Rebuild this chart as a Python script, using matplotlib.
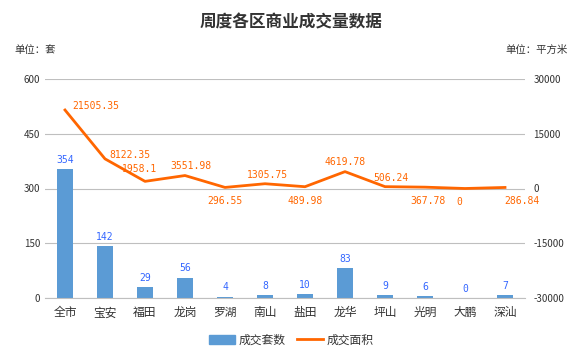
import matplotlib
matplotlib.use("Agg")
import matplotlib.pyplot as plt
from matplotlib.lines import Line2D
from matplotlib.patches import Patch

plt.rcParams['font.family'] = ['Noto Sans CJK SC', 'DejaVu Sans']
plt.rcParams['axes.unicode_minus'] = False

# === data ===
districts = ["全市", "宝安", "福田", "龙岗", "罗湖", "南山", "盐田", "龙华", "坪山", "光明", "大鹏", "深汕"]
units = [354, 142, 29, 56, 4, 8, 10, 83, 9, 6, 0, 7]
areas = [21505.35, 8122.35, 1958.1, 3551.98, 296.55, 1305.75, 489.98, 4619.78, 506.24, 367.78, 0, 286.84]
area_text = ["21505.35", "8122.35", "1958.1", "3551.98", "296.55", "1305.75",
             "489.98", "4619.78", "506.24", "367.78", "0", "286.84"]

# label offsets for the line labels (points)
label_offsets = [(22, 3), (18, 3), (-4, 9), (4, 7), (0, -10), (2, 6),
                 (0, -10), (0, 7), (4, 6), (2, -10), (-4, -10), (12, -10)]

BAR_COLOR = "#5B9BD5"
LINE_COLOR = "#FF6600"
GRID_COLOR = "#BFBFBF"

fig = plt.figure(figsize=(5.82, 3.56), dpi=100)
ax = fig.add_axes([45 / 582, 1 - 298 / 356, 480 / 582, 219 / 356])
ax2 = ax.twinx()

x = list(range(len(districts)))
ax.bar(x, units, width=0.4, color=BAR_COLOR, zorder=2)
for xi, v in zip(x, units):
    ax.annotate(str(v), (xi, v), xytext=(0, 3), textcoords="offset points",
                ha="center", va="bottom", fontsize=7, color="#3366FF",
                family="DejaVu Sans Mono")

ax.set_xlim(-0.5, len(districts) - 0.5)
ax.set_ylim(0, 600)
ax.set_yticks([0, 150, 300, 450, 600])
ax.grid(axis="y", color=GRID_COLOR, linewidth=0.8, zorder=0)
ax.set_axisbelow(True)
ax.set_xticks(x)
ax.set_xticklabels(districts, fontsize=8.5, color="#333333")
for s in ["top", "right", "left"]:
    ax.spines[s].set_visible(False)
ax.spines["bottom"].set_color(GRID_COLOR)
ax.tick_params(axis="both", length=0, labelsize=7, colors="#333333")
ax.tick_params(axis="x", pad=6, labelsize=8.5)

ax2.plot(x, areas, color=LINE_COLOR, linewidth=2, zorder=3)
for xi, v, t, off in zip(x, areas, area_text, label_offsets):
    ax2.annotate(t, (xi, v), xytext=off, textcoords="offset points",
                 ha="center", va="center", fontsize=7, color=LINE_COLOR,
                 family="DejaVu Sans Mono")
ax2.set_ylim(-30000, 30000)
ax2.set_yticks([-30000, -15000, 0, 15000, 30000])
for s in ["top", "right", "left", "bottom"]:
    ax2.spines[s].set_visible(False)
ax2.tick_params(axis="y", length=0, labelsize=7, colors="#333333", pad=6)

fig.text(0.5, 1 - 22 / 356, "周度各区商业成交量数据", ha="center", va="center",
         fontsize=12, fontweight="bold", color="#333333")
fig.text(14 / 582, 1 - 50 / 356, "单位：套", ha="left", va="center", fontsize=7.5, color="#333333")
fig.text(568 / 582, 1 - 50 / 356, "单位：平方米", ha="right", va="center", fontsize=7.5, color="#333333")

handles = [Patch(color=BAR_COLOR), Line2D([0], [0], color=LINE_COLOR, linewidth=2)]
fig.legend(handles, ["成交套数", "成交面积"], loc="center", bbox_to_anchor=(0.5, 1 - 340 / 356),
           ncol=2, frameon=False, fontsize=8.5, handlelength=2.2, handleheight=0.7,
           columnspacing=1.0, handletextpad=0.3, labelcolor="#333333")

fig.savefig("out.png", dpi=100, facecolor="white")
